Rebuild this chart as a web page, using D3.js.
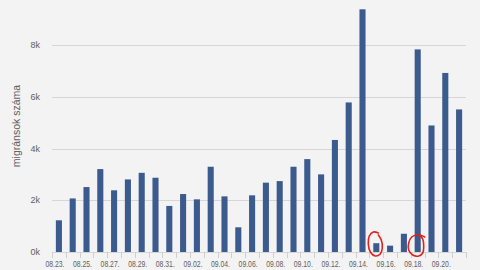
<!DOCTYPE html>
<html><head><meta charset="utf-8">
<script src="https://cdn.jsdelivr.net/npm/d3@7"></script>
<style>
html,body{margin:0;padding:0;background:#f3f3f3;}
svg{display:block;}
text{font-family:"Liberation Sans",Arial,sans-serif;fill:#606060;}
</style></head>
<body>
<svg id="c" width="480" height="270"></svg>
<script>
const dates = ["08.23.","08.24.","08.25.","08.26.","08.27.","08.28.","08.29.","08.30.","08.31.",
  "09.01.","09.02.","09.03.","09.04.","09.05.","09.06.","09.07.","09.08.","09.09.","09.10.",
  "09.11.","09.12.","09.13.","09.14.","09.15.","09.16.","09.17.","09.18.","09.19.","09.20.","09.21."];
const migrants = [1225,2070,2510,3205,2385,2805,3060,2870,1780,
  2240,2035,3295,2150,955,2190,2680,2740,3295,3590,
  3000,4330,5780,9380,340,245,705,7830,4890,6920,5510];
const yTicks = [0,2000,4000,6000,8000];
const yTitle = "migránsok száma";
const circled = ["09.15.","09.18."];

const svg = d3.select("#c");
svg.append("rect").attr("width",480).attr("height",270).attr("fill","#f3f3f3");

const x = d3.scaleBand().domain(dates).range([52,466]).padding(0);
const y = d3.scaleLinear().domain([0,8000]).range([252,45]);
const step = x.step();

// gridlines
svg.append("g").selectAll("line").data(yTicks).join("line")
  .attr("x1",52).attr("x2",466)
  .attr("y1",d=>Math.round(y(d))+0.5).attr("y2",d=>Math.round(y(d))+0.5)
  .attr("stroke","#d6d6d6").attr("stroke-width",1);

// y labels
svg.append("g").selectAll("text").data(yTicks).join("text")
  .attr("x",40).attr("y",d=>y(d)+3)
  .attr("text-anchor","end").attr("font-size",9)
  .text(d=>(d/1000)+"k");

// y title
svg.append("text").attr("transform","translate(20,126) rotate(-90)")
  .attr("text-anchor","middle").attr("font-size",10.5).text(yTitle);

// bars
svg.append("g").selectAll("rect").data(dates).join("rect")
  .attr("x",(d)=>x(d)+step*0.28).attr("width",step*0.44)
  .attr("y",(d,i)=>y(migrants[i])).attr("height",(d,i)=>y(0)-y(migrants[i]))
  .attr("fill","#3b5a8d");

// x ticks at band boundaries
const bounds = dates.map(d=>x(d)).concat([x(dates[dates.length-1])+step]);
svg.append("g").selectAll("line").data(bounds).join("line")
  .attr("x1",d=>Math.round(d)+0.5).attr("x2",d=>Math.round(d)+0.5)
  .attr("y1",252).attr("y2",258)
  .attr("stroke","#cfcfcf");

// x labels every other
svg.append("g").selectAll("text").data(dates.filter((d,i)=>i%2===0)).join("text")
  .attr("transform",d=>`translate(${x(d)+step/2-4},267) scale(0.72,1)`)
  .attr("text-anchor","middle").attr("font-size",9.5)
  .text(d=>d);

// red hand-drawn annotations
const line = d3.line().curve(d3.curveCatmullRom);
const c1 = [[3,-11],[-2,-12],[-6,-8],[-7,0],[-5,8],[0,12],[5,10],[7,4],[6,-4],[3,-9]];
const c2 = [[4,-8],[0,-9],[-5,-7],[-8,-1],[-8,6],[-4,11],[2,12],[6,9],[7,2],[6,-5],[3,-9],[8,-7]];
const shapes = [c1,c2];
circled.forEach((d,k)=>{
  const cx = x(d)+step/2 - 1, cy = y(0)-8;
  svg.append("path").attr("d",line(shapes[k].map(p=>[cx+p[0],cy+p[1]])))
    .attr("fill","none").attr("stroke","#e3201b").attr("stroke-width",1.6)
    .attr("stroke-linecap","round");
});
</script>
</body></html>
